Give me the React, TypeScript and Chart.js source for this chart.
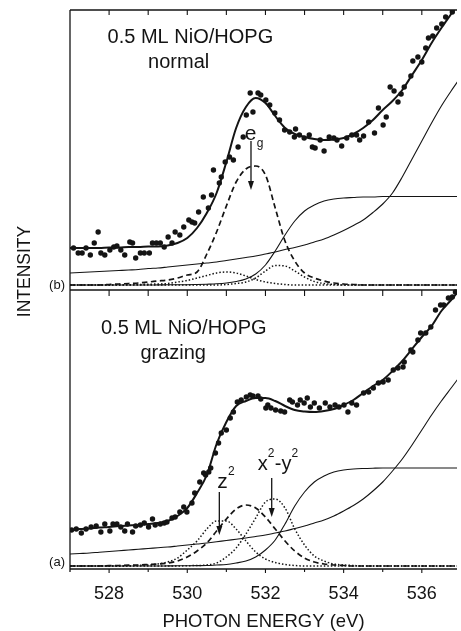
import React, { useEffect, useRef } from 'react';
import { Chart, registerables } from 'chart.js';

Chart.register(...registerables);

// ---------- data (intensity in arbitrary units, photon energy in eV) ----------
const ENERGY = [
  527, 527.25, 527.5, 527.75, 528, 528.25, 528.5, 528.75, 529, 529.25,
  529.5, 529.75, 530, 530.25, 530.5, 530.75, 531, 531.25, 531.5, 531.75,
  532, 532.25, 532.5, 532.75, 533, 533.25, 533.5, 533.75, 534, 534.25,
  534.5, 534.75, 535, 535.25, 535.5, 535.75, 536, 536.25, 536.5, 536.75, 537,
];

// (b) normal incidence
const FIT_B = [37, 37, 37, 37, 37.5, 37.5, 38, 38, 38.5, 38.5, 39.5, 42, 47, 57, 72, 92, 123, 157, 178, 187, 182, 169, 157, 151, 148, 146, 145, 145.5, 147, 151, 157, 165, 175, 184, 195, 210, 225, 242, 257, 271, 285];
const EG_B = [0, 0, 0, 0, 0.5, 1, 1.5, 2, 3, 4, 5, 7, 10, 13, 31, 53, 79, 103, 116, 119, 110, 77, 44, 24, 12, 7, 4, 2, 1, 0.5, 0, 0, 0, 0, 0, 0, 0, 0, 0, 0, 0];
const PEAK1_B = [0, 0, 0, 0, 0, 0, 0.3, 0.5, 0.8, 1, 1.5, 3, 4.5, 7, 9.5, 12, 13, 12, 9, 5.5, 3, 1.5, 0.5, 0, 0, 0, 0, 0, 0, 0, 0, 0, 0, 0, 0, 0, 0, 0, 0, 0, 0];
const PEAK2_B = [0, 0, 0, 0, 0, 0, 0, 0, 0, 0, 0, 0, 0, 0, 0, 0, 0.5, 1.5, 3, 7, 14, 19.5, 19, 14, 8, 3.5, 1.5, 0.5, 0, 0, 0, 0, 0, 0, 0, 0, 0, 0, 0, 0, 0];
const STEP_B = [0, 0, 0, 0, 0, 0, 0, 0, 0, 0.1, 0.2, 0.3, 0.3, 0.5, 0.8, 1.2, 2, 3.5, 6, 11, 20, 34, 50, 64, 74, 80, 84, 86, 87, 87.5, 88, 88, 88.5, 88.5, 88.5, 88.5, 88.5, 88.5, 88.5, 88.5, 88.5];
const BACK_B = [12, 12.5, 13, 13.5, 14, 14.5, 15, 15.5, 16.5, 17, 18, 19, 20, 21, 22, 23, 24.5, 26, 27.5, 29, 31, 33, 35.5, 37.5, 40, 43, 46, 50, 54.5, 59.5, 65, 72.5, 81, 92, 108, 126, 144, 162, 179, 194, 208];
const DOTS_B_E = [527.09, 527.21, 527.31, 527.41, 527.52, 527.62, 527.72, 527.79, 527.89, 528.02, 528.12, 528.2, 528.3, 528.4, 528.53, 528.6, 528.68, 528.8, 528.9, 529.03, 529.11, 529.21, 529.31, 529.41, 529.51, 529.61, 529.69, 529.81, 529.91, 530.04, 530.12, 530.19, 530.29, 530.41, 530.54, 530.62, 530.67, 530.82, 530.87, 530.97, 531.08, 531.18, 531.3, 531.43, 531.51, 531.61, 531.68, 531.81, 531.88, 532.01, 532.11, 532.24, 532.36, 532.49, 532.62, 532.74, 532.77, 532.87, 532.99, 533.12, 533.2, 533.27, 533.4, 533.5, 533.63, 533.75, 533.83, 533.95, 534.08, 534.21, 534.33, 534.41, 534.51, 534.64, 534.79, 534.89, 535.01, 535.09, 535.19, 535.29, 535.39, 535.47, 535.55, 535.72, 535.77, 535.9, 536.0, 536.1, 536.17, 536.28, 536.38, 536.51, 536.61, 536.78];
const DOTS_B_I = [37, 32, 32, 37, 30, 42, 53, 32, 30, 35, 38, 39, 35, 30, 43, 42, 27, 32, 32, 32, 42, 42, 42, 38, 48, 42, 53, 50, 58, 65, 63, 62, 73, 88, 77, 90, 115, 102, 108, 123, 128, 125, 138, 148, 170, 192, 173, 192, 190, 185, 180, 172, 165, 155, 153, 148, 156, 150, 147, 150, 138, 137, 145, 134, 148, 147, 145, 139, 147, 150, 150, 145, 149, 163, 152, 177, 160, 168, 198, 194, 183, 191, 198, 209, 224, 228, 223, 237, 247, 249, 257, 261, 268, 273];

// (a) grazing incidence
const FIT_A = [36, 37, 37.5, 38.5, 39, 40, 40.5, 41, 42, 43, 45, 50, 58, 73, 91, 122, 144, 160, 165, 168, 168, 165, 160, 156, 154.5, 154, 155, 157, 161, 166, 173, 180, 186, 195, 205, 217, 229, 240, 255, 266, 278];
const Z2_A = [0, 0, 0, 0, 0, 0, 0.3, 0.6, 1, 2, 4, 8, 16, 25, 37, 45, 45, 37, 25, 14, 7, 3.5, 1.5, 0.5, 0, 0, 0, 0, 0, 0, 0, 0, 0, 0, 0, 0, 0, 0, 0, 0, 0];
const MID_A = [0, 0, 0, 0, 0.3, 0.5, 0.8, 1, 1.5, 2, 3, 5, 9, 15, 23, 35, 47, 57, 61, 58, 49, 37, 25, 15, 8, 4, 2, 1, 0.5, 0, 0, 0, 0, 0, 0, 0, 0, 0, 0, 0, 0];
const XY_A = [0, 0, 0, 0, 0, 0, 0, 0, 0, 0, 0, 0, 0.3, 0.5, 1, 3, 9, 18, 32, 48, 64, 67, 58, 37, 21, 10, 5, 2, 1, 0.5, 0, 0, 0, 0, 0, 0, 0, 0, 0, 0, 0];
const STEP_A = [0, 0, 0, 0, 0, 0, 0, 0, 0, 0, 0.1, 0.2, 0.3, 0.4, 0.5, 1, 1.5, 3, 5, 9, 16, 26, 42, 60, 74, 84, 90, 94, 96, 97, 97.5, 97.8, 98, 98, 98, 98, 98, 98, 98, 98, 98];
const BACK_A = [12, 12.5, 13, 13.8, 14.5, 15.2, 16, 16.7, 17.5, 18.2, 19, 20, 21, 22, 23, 24.2, 25.5, 26.7, 28, 29.5, 31, 33, 35, 37.5, 40, 43, 46, 50, 55, 60.5, 67, 75, 84, 95, 107, 121, 136, 151, 165, 178, 191];
const DOTS_A_E = [527.04, 527.16, 527.29, 527.41, 527.54, 527.67, 527.79, 527.89, 528.02, 528.1, 528.2, 528.3, 528.4, 528.47, 528.6, 528.68, 528.8, 528.9, 529.01, 529.11, 529.18, 529.31, 529.41, 529.48, 529.61, 529.69, 529.81, 529.91, 529.99, 530.12, 530.19, 530.32, 530.42, 530.47, 530.55, 530.6, 530.72, 530.8, 530.87, 531.0, 531.1, 531.18, 531.28, 531.38, 531.51, 531.61, 531.68, 531.81, 531.88, 532.01, 532.06, 532.14, 532.26, 532.39, 532.49, 532.62, 532.69, 532.82, 532.89, 532.99, 533.07, 533.15, 533.25, 533.38, 533.53, 533.65, 533.78, 533.88, 534.01, 534.11, 534.21, 534.33, 534.51, 534.64, 534.76, 534.89, 535.01, 535.14, 535.27, 535.39, 535.52, 535.55, 535.72, 535.77, 535.9, 535.97, 536.1, 536.23, 536.35, 536.48, 536.56, 536.68, 536.78, 536.86];
const DOTS_A_I = [36, 37, 33, 37, 39, 40, 34, 42, 35, 42, 42, 39, 35, 42, 34, 40, 41, 43, 39, 47, 41, 42, 43, 44, 48, 49, 54, 59, 54, 63, 73, 84, 93, 91, 94, 98, 113, 123, 133, 136, 148, 154, 164, 166, 169, 171, 170, 170, 167, 158, 161, 158, 156, 155, 154, 166, 164, 161, 166, 163, 168, 159, 163, 158, 163, 159, 161, 159, 161, 154, 163, 161, 173, 174, 178, 183, 184, 186, 196, 198, 199, 204, 216, 214, 226, 233, 233, 239, 256, 261, 261, 268, 269, 274];

const X_TICKS = [528, 529, 530, 531, 532, 533, 534, 535, 536];
const X_MIN = 527;
const X_MAX = 536.9;
const Y_MIN = -3;
const Y_MAX = 556;
const OFFSET_A = 0;
const OFFSET_B = 281;
const DIVIDER = 276;

// ---------- helpers ----------
const toPoints = (xs: number[], ys: number[], off: number) => xs.map((x, i) => ({ x, y: ys[i] + off }));

const INK = '#141414';
const FONT = "'Liberation Sans', Arial, Helvetica, sans-serif";

const curve = (label: string, ys: number[], off: number, kind: 'fit' | 'solid' | 'dash' | 'dot') => ({
  label,
  data: toPoints(ENERGY, ys, off),
  borderColor: INK,
  backgroundColor: INK,
  borderWidth: kind === 'fit' ? 2 : kind === 'dash' ? 1.7 : kind === 'dot' ? 1.5 : 1.1,
  borderDash: kind === 'dash' ? [5.5, 3.5] : kind === 'dot' ? [1.5, 2] : [],
  pointRadius: 0,
  cubicInterpolationMode: 'monotone' as const,
  showLine: true,
  fill: false,
});

const dots = (label: string, xs: number[], ys: number[], off: number) => ({
  label,
  data: toPoints(xs, ys, off),
  showLine: false,
  pointRadius: 2.7,
  pointBorderWidth: 0,
  pointBackgroundColor: INK,
  borderColor: INK,
  backgroundColor: INK,
});

function arrow(ctx: CanvasRenderingContext2D, x: number, y1: number, y2: number) {
  ctx.beginPath();
  ctx.moveTo(x, y1);
  ctx.lineTo(x, y2 - 8);
  ctx.lineWidth = 1.3;
  ctx.stroke();
  ctx.beginPath();
  ctx.moveTo(x - 3, y2 - 9);
  ctx.lineTo(x + 3, y2 - 9);
  ctx.lineTo(x, y2);
  ctx.closePath();
  ctx.fill();
}

const decorPlugin = {
  id: 'decor',
  afterDraw(chart: any) {
    const { ctx, chartArea, scales } = chart;
    const { left, right, top, bottom } = chartArea;
    const xs = scales.x;
    const ys = scales.y;
    const X = (e: number) => xs.getPixelForValue(e);
    const Y = (v: number) => ys.getPixelForValue(v);
    const yDiv = Y(DIVIDER);
    ctx.save();
    ctx.strokeStyle = INK;
    ctx.fillStyle = INK;
    ctx.lineWidth = 1.3;
    // frame
    ctx.beginPath();
    ctx.moveTo(left, top);
    ctx.lineTo(left, bottom + 3);
    ctx.moveTo(left, top);
    ctx.lineTo(right, top);
    ctx.moveTo(left, yDiv);
    ctx.lineTo(right, yDiv);
    ctx.moveTo(left, bottom);
    ctx.lineTo(right, bottom);
    ctx.stroke();
    // tick marks
    ctx.lineWidth = 1.1;
    ctx.beginPath();
    X_TICKS.forEach((t) => {
      const px = X(t);
      const major = t % 2 === 0;
      ctx.moveTo(px, top);
      ctx.lineTo(px, top + 5);
      ctx.moveTo(px, yDiv);
      ctx.lineTo(px, yDiv + 6);
      ctx.moveTo(px, bottom);
      ctx.lineTo(px, bottom + (major ? 4 : 3));
    });
    ctx.stroke();

    // texts
    ctx.textBaseline = 'alphabetic';
    ctx.textAlign = 'center';
    ctx.font = `20px ${FONT}`;
    ctx.fillText('0.5 ML NiO/HOPG', X(530.08), Y(523));
    ctx.fillText('normal', X(529.78), Y(498));
    ctx.fillText('0.5 ML NiO/HOPG', X(529.91), Y(232));
    ctx.fillText('grazing', X(529.64), Y(207));

    // e_g
    ctx.font = `21px ${FONT}`;
    ctx.fillText('e', X(531.62), Y(426));
    ctx.font = `12px ${FONT}`;
    ctx.fillText('g', X(531.86), Y(419));
    arrow(ctx, X(531.63), Y(425), Y(376));

    // z^2
    ctx.font = `21px ${FONT}`;
    ctx.fillText('z', X(530.9), Y(78));
    ctx.font = `12px ${FONT}`;
    ctx.fillText('2', X(531.13), Y(91));
    arrow(ctx, X(530.82), Y(74), Y(31));

    // x^2-y^2
    ctx.textAlign = 'left';
    let cx = X(531.8);
    const base = Y(96);
    const parts: [string, boolean][] = [['x', false], ['2', true], ['-', false], ['y', false], ['2', true]];
    parts.forEach(([s, sup]) => {
      ctx.font = sup ? `12px ${FONT}` : `20px ${FONT}`;
      ctx.fillText(s, cx, sup ? base - 13 : base);
      cx += ctx.measureText(s).width + (sup ? 0.5 : 0);
    });
    ctx.textAlign = 'center';
    arrow(ctx, X(532.16), Y(88), Y(49));

    // panel letters
    ctx.font = `13px ${FONT}`;
    ctx.textAlign = 'right';
    ctx.textBaseline = 'middle';
    ctx.fillText('(b)', left - 5, Y(OFFSET_B));
    ctx.fillText('(a)', left - 5, Y(OFFSET_A + 4));

    // y title
    ctx.font = `17.5px ${FONT}`;
    ctx.textAlign = 'center';
    ctx.translate(left - 45, Y(294.5));
    ctx.rotate(-Math.PI / 2);
    ctx.fillText('INTENSITY', 0, 0);
    ctx.restore();
  },
};

export default function App() {
  const ref = useRef<HTMLCanvasElement>(null);

  useEffect(() => {
    document.body.style.margin = '0';
    const canvas = ref.current;
    if (!canvas) return;
    const chart = new Chart(canvas, {
      type: 'line',
      data: {
        datasets: [
          curve('fit (b)', FIT_B, OFFSET_B, 'fit'),
          curve('e_g (b)', EG_B, OFFSET_B, 'dash'),
          curve('peak 1 (b)', PEAK1_B, OFFSET_B, 'dot'),
          curve('peak 2 (b)', PEAK2_B, OFFSET_B, 'dot'),
          curve('step (b)', STEP_B, OFFSET_B, 'solid'),
          curve('background (b)', BACK_B, OFFSET_B, 'solid'),
          dots('data (b)', DOTS_B_E, DOTS_B_I, OFFSET_B),
          curve('fit (a)', FIT_A, OFFSET_A, 'fit'),
          curve('z2 (a)', Z2_A, OFFSET_A, 'dot'),
          curve('mid (a)', MID_A, OFFSET_A, 'dash'),
          curve('x2-y2 (a)', XY_A, OFFSET_A, 'dot'),
          curve('step (a)', STEP_A, OFFSET_A, 'solid'),
          curve('background (a)', BACK_A, OFFSET_A, 'solid'),
          dots('data (a)', DOTS_A_E, DOTS_A_I, OFFSET_A),
        ] as any,
      },
      options: {
        animation: false,
        responsive: true,
        maintainAspectRatio: false,
        layout: { padding: { left: 70, top: 10, right: 0, bottom: 0 } },
        plugins: { legend: { display: false }, tooltip: { enabled: false } },
        scales: {
          x: {
            type: 'linear',
            min: X_MIN,
            max: X_MAX,
            grid: { display: false, drawTicks: false },
            border: { display: false },
            afterBuildTicks: (scale: any) => {
              scale.ticks = X_TICKS.map((value) => ({ value }));
            },
            ticks: {
              autoSkip: false,
              maxRotation: 0,
              padding: 14,
              color: INK,
              font: { family: FONT, size: 18 },
              callback: (v: any) => (Number.isInteger(v) && v % 2 === 0 ? String(v) : ''),
            },
            title: {
              display: true,
              text: 'PHOTON ENERGY (eV)',
              color: INK,
              font: { family: FONT, size: 18.5, lineHeight: 1 },
              padding: { top: 0, bottom: 0 },
            },
            afterFit: (scale: any) => {
              scale.height = 62;
            },
          },
          y: {
            type: 'linear',
            display: false,
            min: Y_MIN,
            max: Y_MAX,
          },
        },
      },
      plugins: [decorPlugin],
    });
    return () => chart.destroy();
  }, []);

  return (
    <div style={{ position: 'relative', width: 461, height: 631, background: '#fff' }}>
      <canvas ref={ref} />
    </div>
  );
}
